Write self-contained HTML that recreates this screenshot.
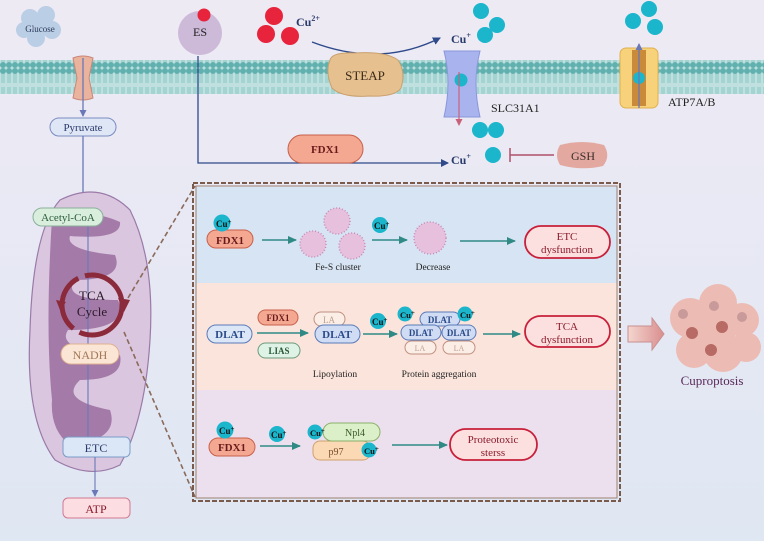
<!DOCTYPE html>
<html><head><meta charset="utf-8"><style>
html,body{margin:0;padding:0;width:764px;height:541px;overflow:hidden}
svg{display:block}
text{font-family:"Liberation Serif",serif}
</style></head><body>
<svg width="764" height="541" viewBox="0 0 764 541" xmlns="http://www.w3.org/2000/svg">
<defs>
<linearGradient id="bg" x1="0" y1="0" x2="0" y2="1"><stop offset="0" stop-color="#eeeaf4"/><stop offset="1" stop-color="#dfe7f3"/></linearGradient>
<pattern id="mem" width="6" height="34" patternUnits="userSpaceOnUse">
<rect width="6" height="34" fill="#bfe0df"/>
<circle cx="3" cy="3" r="3" fill="#5fb0ae"/><circle cx="3" cy="31" r="3" fill="#5fb0ae"/>
<path d="M2 6 L2 15 M4 6 L4 15 M2 19 L2 28 M4 19 L4 28" stroke="#7cc2c0" stroke-width="0.8"/>
</pattern>
<marker id="ab" markerWidth="8" markerHeight="8" refX="7" refY="4" orient="auto" markerUnits="userSpaceOnUse"><path d="M0 0 L8 4 L0 8 Z" fill="#2e4a8a"/></marker>
<marker id="at" markerWidth="9" markerHeight="8" refX="8" refY="4" orient="auto" markerUnits="userSpaceOnUse"><path d="M0 0 L9 4 L0 8 Z" fill="#2f8a86"/></marker>
<marker id="ap" markerWidth="7" markerHeight="7" refX="6" refY="3.5" orient="auto" markerUnits="userSpaceOnUse"><path d="M0 0 L7 3.5 L0 7 Z" fill="#6a78b8"/></marker>
<marker id="ar" markerWidth="7" markerHeight="7" refX="6" refY="3.5" orient="auto" markerUnits="userSpaceOnUse"><path d="M0 0 L7 3.5 L0 7 Z" fill="#c8607a"/></marker>
<linearGradient id="bar" x1="0" y1="0" x2="1" y2="0"><stop offset="0" stop-color="#f4d6cf"/><stop offset="1" stop-color="#d98e8e"/></linearGradient>
</defs>
<rect width="764" height="541" fill="url(#bg)"/>
<rect x="0" y="60" width="764" height="34" fill="url(#mem)"/>

<!-- glucose -->
<g fill="#b5cce4" opacity="0.9">
<circle cx="30" cy="18" r="9"/><circle cx="46" cy="15" r="9"/><circle cx="52" cy="30" r="9"/><circle cx="36" cy="38" r="9"/><circle cx="24" cy="30" r="8"/><circle cx="42" cy="26" r="9"/>
</g>
<text x="40" y="32" font-size="9" text-anchor="middle" fill="#2a3a5a">Glucose</text>
<path d="M73 58 Q83 54 93 58 L89 78 L93 98 Q83 102 73 98 L77 78 Z" fill="#eab39e" stroke="#c9877a"/>
<line x1="83" y1="58" x2="83" y2="116" stroke="#6a78b8" stroke-width="1.3" marker-end="url(#ap)"/>
<rect x="50" y="118" width="66" height="18" rx="9" fill="#dfe6f6" stroke="#7a8cc0"/>
<text x="83" y="131" font-size="11" text-anchor="middle" fill="#2a3a6a">Pyruvate</text>
<line x1="83" y1="136" x2="83" y2="205" stroke="#6a78b8" stroke-width="1.3"/>

<!-- ES -->
<circle cx="200" cy="33" r="22" fill="#cdb9d8"/>
<circle cx="204" cy="15" r="6.5" fill="#e8243c"/>
<text x="200" y="36" font-size="12" text-anchor="middle" fill="#222">ES</text>
<path d="M198 56 L198 163 L448 163" fill="none" stroke="#2e4a8a" stroke-width="1.3" marker-end="url(#ab)"/>

<!-- Cu2+ -->
<circle cx="274" cy="16" r="9" fill="#e8243c"/><circle cx="266" cy="34" r="9" fill="#e8243c"/><circle cx="290" cy="36" r="9" fill="#e8243c"/>
<text x="296" y="26" font-size="12" font-weight="bold" fill="#2a3a6a">Cu<tspan dy="-5" font-size="8">2+</tspan></text>
<path d="M312 42 Q380 68 440 38" fill="none" stroke="#2e4a8a" stroke-width="1.4" marker-end="url(#ab)"/>
<text x="451" y="43" font-size="12" font-weight="bold" fill="#2a3a6a">Cu<tspan dy="-5" font-size="8">+</tspan></text>
<g fill="#1bb5cc"><circle cx="481" cy="11" r="8"/><circle cx="497" cy="25" r="8"/><circle cx="485" cy="35" r="8"/></g>

<!-- STEAP -->
<path d="M330 60 Q332 52 355 53 Q385 51 398 60 Q406 72 401 88 Q395 97 370 96 Q342 98 332 88 Q325 72 330 60Z" fill="#e6c08f" stroke="#c9a06e"/>
<text x="365" y="80" font-size="13" text-anchor="middle" fill="#3a2a1a">STEAP</text>

<!-- SLC31A1 -->
<path d="M444 51 L480 51 Q472 82 480 117 L444 117 Q452 82 444 51Z" fill="#a9b4ee" stroke="#8a96dc"/>
<circle cx="461" cy="80" r="6.5" fill="#1bb5cc"/>
<line x1="459" y1="72" x2="459" y2="125" stroke="#c8607a" stroke-width="1.2" marker-end="url(#ar)"/>
<text x="491" y="112" font-size="12" fill="#222">SLC31A1</text>

<!-- ATP7A/B -->
<rect x="620" y="48" width="38" height="60" rx="6" fill="#f7d27a" stroke="#e0b050"/>
<rect x="632" y="50" width="14" height="56" fill="#c98a3a"/>
<circle cx="639" cy="78" r="6" fill="#1bb5cc"/>
<line x1="639" y1="108" x2="639" y2="44" stroke="#6a78b8" stroke-width="1.3" marker-end="url(#ap)"/>
<g fill="#1bb5cc"><circle cx="633" cy="21" r="8"/><circle cx="649" cy="9" r="8"/><circle cx="655" cy="27" r="8"/></g>
<text x="668" y="106" font-size="12" fill="#222">ATP7A/B</text>

<!-- Cu+ pool -->
<g fill="#1bb5cc"><circle cx="480" cy="130" r="8"/><circle cx="496" cy="130" r="8"/><circle cx="493" cy="155" r="8"/></g>
<text x="451" y="164" font-size="12" font-weight="bold" fill="#2a3a6a">Cu<tspan dy="-5" font-size="8">+</tspan></text>
<line x1="510" y1="155" x2="554" y2="155" stroke="#b0506a" stroke-width="1.5"/>
<line x1="510" y1="148" x2="510" y2="162" stroke="#b0506a" stroke-width="1.5"/>
<path d="M560 145 Q582 139 604 145 Q611 156 603 166 Q582 171 560 165 Q554 155 560 145Z" fill="#e3a9a0"/>
<text x="583" y="160" font-size="12" text-anchor="middle" fill="#3a2a2a">GSH</text>

<!-- FDX1 top -->
<rect x="288" y="135" width="75" height="28" rx="14" fill="#f4a892" stroke="#c8604a"/>
<text x="325" y="153" font-size="11" font-weight="bold" text-anchor="middle" fill="#6a1a1a">FDX1</text>

<!-- mitochondrion -->
<path d="M60 200 Q100 180 130 210 Q155 260 150 340 Q145 420 120 465 Q90 480 55 460 Q25 420 30 330 Q33 230 60 200Z" fill="#dac6de" stroke="#9a7aa8" stroke-width="1.2"/>
<path d="M52 218 Q90 208 120 222 Q122 240 70 236 Q65 250 115 255 Q125 280 75 280 Q60 300 118 300 Q130 330 68 330 Q55 350 120 355 Q125 380 80 380 Q58 400 110 410 Q120 440 70 445 Q50 430 52 400 Q45 330 52 218Z" fill="#a47aa8"/>
<line x1="88" y1="226" x2="88" y2="440" stroke="#6a78b8" stroke-width="1.1"/>
<rect x="33" y="208" width="70" height="18" rx="9" fill="#d9eedd" stroke="#8ab09a"/>
<text x="68" y="221" font-size="11" text-anchor="middle" fill="#2a5a3a">Acetyl-CoA</text>
<circle cx="92" cy="305" r="30" fill="none" stroke="#8b2a3a" stroke-width="5" stroke-dasharray="60 7"/>
<path d="M118 298 L130 300 L124 312Z M60 310 L56 300 L66 302Z" fill="#8b2a3a"/>
<text x="92" y="300" font-size="13" text-anchor="middle" fill="#2a1a2a">TCA</text>
<text x="92" y="316" font-size="13" text-anchor="middle" fill="#2a1a2a">Cycle</text>
<rect x="61" y="344" width="58" height="20" rx="10" fill="#fbe6d6" stroke="#e0b090"/>
<text x="90" y="359" font-size="12" text-anchor="middle" fill="#a07858">NADH</text>
<rect x="63" y="437" width="67" height="20" rx="5" fill="#dbe7f6" stroke="#7a9cc8"/>
<text x="96" y="452" font-size="12" text-anchor="middle" fill="#2a3a6a">ETC</text>
<line x1="95" y1="457" x2="95" y2="496" stroke="#6a78b8" stroke-width="1.1" marker-end="url(#ap)"/>
<rect x="63" y="498" width="67" height="20" rx="5" fill="#fbdde2" stroke="#d07890"/>
<text x="96" y="513" font-size="12" text-anchor="middle" fill="#8a1a2a">ATP</text>

<line x1="128" y1="298" x2="195" y2="186" stroke="#8a6a5a" stroke-width="1.6" stroke-dasharray="5 3"/>
<line x1="124" y1="332" x2="195" y2="497" stroke="#8a6a5a" stroke-width="1.6" stroke-dasharray="5 3"/>

<!-- box -->
<rect x="196" y="187" width="421" height="96" fill="#d7e4f3"/>
<rect x="196" y="283" width="421" height="107" fill="#fbe4dc"/>
<rect x="196" y="390" width="421" height="108" fill="#ede0ee"/>
<rect x="193" y="183" width="427" height="318" fill="none" stroke="#7a5a4a" stroke-width="2" stroke-dasharray="5 2"/>
<rect x="196" y="186" width="421" height="312" fill="none" stroke="#9a8070" stroke-width="1"/>

<!-- panel1 -->
<rect x="207" y="230" width="46" height="18" rx="9" fill="#f4a892" stroke="#c8604a"/>
<text x="230" y="244" font-size="11" font-weight="bold" text-anchor="middle" fill="#6a1a1a">FDX1</text>
<circle cx="222" cy="223" r="8.5" fill="#1bb5cc"/><text x="216" y="227" font-size="9" font-weight="bold" fill="#111">Cu<tspan dy="-3" font-size="7">+</tspan></text>
<line x1="262" y1="240" x2="296" y2="240" stroke="#2f8a86" stroke-width="1.6" marker-end="url(#at)"/>
<g fill="#e6c0dc" stroke="#c98ab8" stroke-width="1.5" stroke-dasharray="1 2"><circle cx="337" cy="221" r="13"/><circle cx="313" cy="244" r="13"/><circle cx="352" cy="246" r="13"/><circle cx="430" cy="238" r="16"/></g>
<text x="338" y="270" font-size="9.5" text-anchor="middle" fill="#222">Fe-S cluster</text>
<circle cx="380" cy="225" r="8" fill="#1bb5cc"/><text x="374" y="229" font-size="9" font-weight="bold" fill="#111">Cu<tspan dy="-3" font-size="7">+</tspan></text>
<line x1="372" y1="240" x2="407" y2="240" stroke="#2f8a86" stroke-width="1.6" marker-end="url(#at)"/>
<text x="433" y="270" font-size="9.5" text-anchor="middle" fill="#222">Decrease</text>
<line x1="460" y1="241" x2="515" y2="241" stroke="#2f8a86" stroke-width="1.6" marker-end="url(#at)"/>
<rect x="525" y="226" width="85" height="32" rx="16" fill="#fce0e0" stroke="#c8203a" stroke-width="1.8"/>
<text x="567" y="240" font-size="11" text-anchor="middle" fill="#8a1a2a">ETC</text>
<text x="567" y="253" font-size="11" text-anchor="middle" fill="#8a1a2a">dysfunction</text>

<!-- panel2 -->
<rect x="207" y="325" width="45" height="18" rx="9" fill="#dbe6f7" stroke="#5a7ab8"/>
<text x="230" y="338" font-size="11" font-weight="bold" text-anchor="middle" fill="#2a4a8a">DLAT</text>
<rect x="258" y="310" width="40" height="15" rx="7.5" fill="#f4a892" stroke="#c8604a"/>
<text x="278" y="321" font-size="9" font-weight="bold" text-anchor="middle" fill="#6a1a1a">FDX1</text>
<rect x="258" y="343" width="42" height="15" rx="7.5" fill="#dff2e6" stroke="#6a9a7a"/>
<text x="279" y="354" font-size="9" font-weight="bold" text-anchor="middle" fill="#2a5a3a">LIAS</text>
<line x1="257" y1="333" x2="308" y2="333" stroke="#2f8a86" stroke-width="1.6" marker-end="url(#at)"/>
<rect x="314" y="312" width="31" height="14" rx="7" fill="#fbeee6" stroke="#c09080"/>
<text x="329" y="323" font-size="9" text-anchor="middle" fill="#c0a090">LA</text>
<rect x="315" y="325" width="45" height="18" rx="9" fill="#cfdcf4" stroke="#5a7ab8"/>
<text x="337" y="338" font-size="11" font-weight="bold" text-anchor="middle" fill="#2a4a8a">DLAT</text>
<circle cx="378" cy="321" r="8" fill="#1bb5cc"/><text x="372" y="325" font-size="9" font-weight="bold" fill="#111">Cu<tspan dy="-3" font-size="7">+</tspan></text>
<line x1="363" y1="334" x2="397" y2="334" stroke="#2f8a86" stroke-width="1.6" marker-end="url(#at)"/>
<rect x="420" y="312" width="40" height="14" rx="7" fill="#cfdcf4" stroke="#5a7ab8"/>
<text x="440" y="323" font-size="9" font-weight="bold" text-anchor="middle" fill="#2a4a8a">DLAT</text>
<rect x="401" y="325" width="40" height="15" rx="7.5" fill="#cfdcf4" stroke="#5a7ab8"/>
<text x="421" y="336" font-size="9" font-weight="bold" text-anchor="middle" fill="#2a4a8a">DLAT</text>
<rect x="442" y="325" width="34" height="15" rx="7.5" fill="#cfdcf4" stroke="#5a7ab8"/>
<text x="459" y="336" font-size="9" font-weight="bold" text-anchor="middle" fill="#2a4a8a">DLAT</text>
<rect x="405" y="341" width="31" height="13" rx="6.5" fill="#fbeee6" stroke="#c09080"/>
<text x="420" y="351" font-size="8" text-anchor="middle" fill="#c0a090">LA</text>
<rect x="443" y="341" width="32" height="13" rx="6.5" fill="#fbeee6" stroke="#c09080"/>
<text x="459" y="351" font-size="8" text-anchor="middle" fill="#c0a090">LA</text>
<circle cx="405" cy="314" r="7.5" fill="#1bb5cc"/><text x="400" y="318" font-size="8.5" font-weight="bold" fill="#111">Cu<tspan dy="-3" font-size="7">+</tspan></text>
<circle cx="465" cy="314" r="7.5" fill="#1bb5cc"/><text x="460" y="318" font-size="8.5" font-weight="bold" fill="#111">Cu<tspan dy="-3" font-size="7">+</tspan></text>
<line x1="483" y1="334" x2="520" y2="334" stroke="#2f8a86" stroke-width="1.6" marker-end="url(#at)"/>
<rect x="525" y="316" width="85" height="31" rx="15.5" fill="#fce0e0" stroke="#c8203a" stroke-width="1.8"/>
<text x="567" y="330" font-size="11" text-anchor="middle" fill="#8a1a2a">TCA</text>
<text x="567" y="343" font-size="11" text-anchor="middle" fill="#8a1a2a">dysfunction</text>
<text x="335" y="377" font-size="9.5" text-anchor="middle" fill="#222">Lipoylation</text>
<text x="439" y="377" font-size="9.5" text-anchor="middle" fill="#222">Protein aggregation</text>

<!-- panel3 -->
<rect x="209" y="438" width="46" height="18" rx="9" fill="#f4a892" stroke="#c8604a"/>
<text x="232" y="451" font-size="11" font-weight="bold" text-anchor="middle" fill="#6a1a1a">FDX1</text>
<circle cx="225" cy="430" r="8.5" fill="#1bb5cc"/><text x="219" y="434" font-size="9" font-weight="bold" fill="#111">Cu<tspan dy="-3" font-size="7">+</tspan></text>
<circle cx="277" cy="434" r="8" fill="#1bb5cc"/><text x="271" y="438" font-size="9" font-weight="bold" fill="#111">Cu<tspan dy="-3" font-size="7">+</tspan></text>
<line x1="260" y1="446" x2="300" y2="446" stroke="#2f8a86" stroke-width="1.6" marker-end="url(#at)"/>
<rect x="313" y="441" width="57" height="19" rx="7" fill="#fad9b4" stroke="#d0a070"/>
<text x="336" y="455" font-size="10" text-anchor="middle" fill="#7a4a2a">p97</text>
<rect x="323" y="423" width="57" height="18" rx="9" fill="#dbefc8" stroke="#8ab06a"/>
<text x="355" y="436" font-size="10" text-anchor="middle" fill="#3a5a2a">Npl4</text>
<circle cx="315" cy="432" r="7.5" fill="#1bb5cc"/><text x="310" y="436" font-size="8.5" font-weight="bold" fill="#111">Cu<tspan dy="-3" font-size="7">+</tspan></text>
<circle cx="369" cy="450" r="7.5" fill="#1bb5cc"/><text x="364" y="454" font-size="8.5" font-weight="bold" fill="#111">Cu<tspan dy="-3" font-size="7">+</tspan></text>
<line x1="392" y1="445" x2="447" y2="445" stroke="#2f8a86" stroke-width="1.6" marker-end="url(#at)"/>
<rect x="450" y="429" width="87" height="31" rx="15.5" fill="#fce0e0" stroke="#c8203a" stroke-width="1.8"/>
<text x="493" y="443" font-size="11" text-anchor="middle" fill="#8a1a2a">Proteotoxic</text>
<text x="493" y="456" font-size="11" text-anchor="middle" fill="#8a1a2a">sterss</text>

<path d="M628 326 L652 326 L652 318 L664 334 L652 350 L652 342 L628 342Z" fill="url(#bar)" stroke="#c89090"/>
<g fill="#edb8ae" opacity="0.9">
<circle cx="690" cy="318" r="20"/><circle cx="718" cy="303" r="19"/><circle cx="742" cy="320" r="17"/><circle cx="694" cy="350" r="18"/><circle cx="723" cy="352" r="20"/><circle cx="746" cy="347" r="15"/><circle cx="716" cy="330" r="20"/>
</g>
<g fill="#b86a64"><circle cx="692" cy="333" r="6"/><circle cx="722" cy="327" r="6"/><circle cx="711" cy="350" r="6"/></g>
<g fill="#c99a9a"><circle cx="683" cy="314" r="5"/><circle cx="714" cy="306" r="5"/><circle cx="742" cy="317" r="5"/></g>
<text x="712" y="385" font-size="13" text-anchor="middle" fill="#5a2a5a">Cuproptosis</text>
</svg>
</body></html>
